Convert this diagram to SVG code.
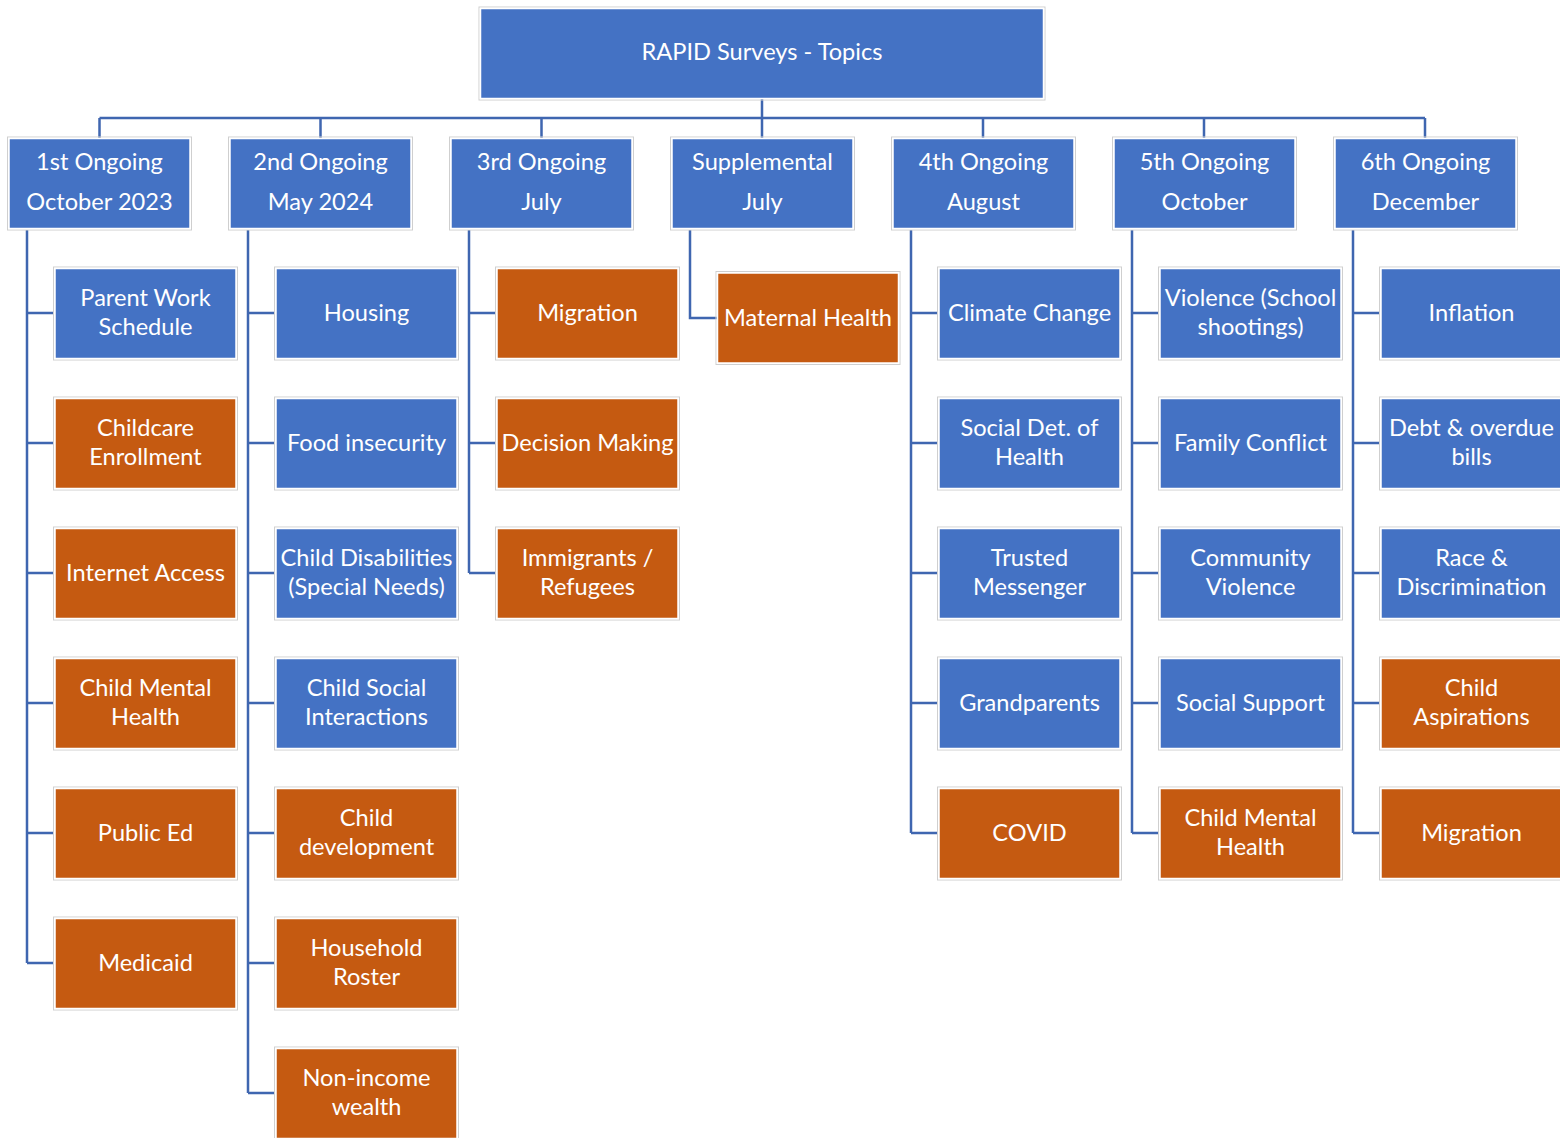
<svg xmlns="http://www.w3.org/2000/svg" width="1560" height="1138" viewBox="0 0 1560 1138">
<style>
.b rect.f{fill:#4472C4}
.o rect.f{fill:#C55A11}
rect.f{stroke:#fff;stroke-width:1.5}
rect.e{fill:none;stroke:#cfcfcf;stroke-width:1}
text{font-family:Lato,"Liberation Sans",sans-serif;font-size:23.6px;fill:#fff;text-anchor:middle}
.c{fill:none;stroke:#3F66B0;stroke-width:2.5}
</style>
<rect width="1560" height="1138" fill="#fff"/>
<g id="connectors" class="c">
<path d="M762 99V118M99.5 118H1425M99.5 118V138M320.5 118V138M541.5 118V138M762 118V138M983 118V138M1204 118V138M1425 118V138"/>
<path d="M27 230V963M27 313H54M27 443H54M27 573H54M27 703H54M27 833H54M27 963H54"/>
<path d="M248 230V1093M248 313H275M248 443H275M248 573H275M248 703H275M248 833H275M248 963H275M248 1093H275"/>
<path d="M469 230V573M469 313H496M469 443H496M469 573H496"/>
<path d="M690 230V318H717"/>
<path d="M911 230V833M911 313H938M911 443H938M911 573H938M911 703H938M911 833H938"/>
<path d="M1132 230V833M1132 313H1159M1132 443H1159M1132 573H1159M1132 703H1159M1132 833H1159"/>
<path d="M1353 230V833M1353 313H1380M1353 443H1380M1353 573H1380M1353 703H1380M1353 833H1380"/>
</g>
<g id="root" class="b"><rect class="e" x="479" y="7" width="566" height="93"/><rect class="f" x="480.5" y="8.5" width="563" height="90"/><text x="762" y="60">RAPID Surveys - Topics</text></g>
<g id="h1" class="b"><rect class="e" x="7.5" y="137" width="184" height="93"/><rect class="f" x="9" y="138.5" width="181" height="90"/><text x="99.5" y="170">1st Ongoing</text><text x="99.5" y="210">October 2023</text></g>
<g id="h2" class="b"><rect class="e" x="228.5" y="137" width="184" height="93"/><rect class="f" x="230" y="138.5" width="181" height="90"/><text x="320.5" y="170">2nd Ongoing</text><text x="320.5" y="210">May 2024</text></g>
<g id="h3" class="b"><rect class="e" x="449.5" y="137" width="184" height="93"/><rect class="f" x="451" y="138.5" width="181" height="90"/><text x="541.5" y="170">3rd Ongoing</text><text x="541.5" y="210">July</text></g>
<g id="h4" class="b"><rect class="e" x="670.5" y="137" width="184" height="93"/><rect class="f" x="672" y="138.5" width="181" height="90"/><text x="762.5" y="170">Supplemental</text><text x="762.5" y="210">July</text></g>
<g id="h5" class="b"><rect class="e" x="891.5" y="137" width="184" height="93"/><rect class="f" x="893" y="138.5" width="181" height="90"/><text x="983.5" y="170">4th Ongoing</text><text x="983.5" y="210">August</text></g>
<g id="h6" class="b"><rect class="e" x="1112.5" y="137" width="184" height="93"/><rect class="f" x="1114" y="138.5" width="181" height="90"/><text x="1204.5" y="170">5th Ongoing</text><text x="1204.5" y="210">October</text></g>
<g id="h7" class="b"><rect class="e" x="1333.5" y="137" width="184" height="93"/><rect class="f" x="1335" y="138.5" width="181" height="90"/><text x="1425.5" y="170">6th Ongoing</text><text x="1425.5" y="210">December</text></g>

<g id="c1-1" class="b"><rect class="e" x="53.5" y="267" width="184" height="93"/><rect class="f" x="55" y="268.5" width="181" height="90"/><text x="145.5" y="306">Parent Work</text><text x="145.5" y="335">Schedule</text></g>
<g id="c1-2" class="o"><rect class="e" x="53.5" y="397" width="184" height="93"/><rect class="f" x="55" y="398.5" width="181" height="90"/><text x="145.5" y="436">Childcare</text><text x="145.5" y="465">Enrollment</text></g>
<g id="c1-3" class="o"><rect class="e" x="53.5" y="527" width="184" height="93"/><rect class="f" x="55" y="528.5" width="181" height="90"/><text x="145.5" y="581">Internet Access</text></g>
<g id="c1-4" class="o"><rect class="e" x="53.5" y="657" width="184" height="93"/><rect class="f" x="55" y="658.5" width="181" height="90"/><text x="145.5" y="696">Child Mental</text><text x="145.5" y="725">Health</text></g>
<g id="c1-5" class="o"><rect class="e" x="53.5" y="787" width="184" height="93"/><rect class="f" x="55" y="788.5" width="181" height="90"/><text x="145.5" y="841">Public Ed</text></g>
<g id="c1-6" class="o"><rect class="e" x="53.5" y="917" width="184" height="93"/><rect class="f" x="55" y="918.5" width="181" height="90"/><text x="145.5" y="971">Medicaid</text></g>

<g id="c2-1" class="b"><rect class="e" x="274.5" y="267" width="184" height="93"/><rect class="f" x="276" y="268.5" width="181" height="90"/><text x="366.5" y="321">Housing</text></g>
<g id="c2-2" class="b"><rect class="e" x="274.5" y="397" width="184" height="93"/><rect class="f" x="276" y="398.5" width="181" height="90"/><text x="366.5" y="451">Food insecurity</text></g>
<g id="c2-3" class="b"><rect class="e" x="274.5" y="527" width="184" height="93"/><rect class="f" x="276" y="528.5" width="181" height="90"/><text x="366.5" y="566">Child Disabilities</text><text x="366.5" y="595">(Special Needs)</text></g>
<g id="c2-4" class="b"><rect class="e" x="274.5" y="657" width="184" height="93"/><rect class="f" x="276" y="658.5" width="181" height="90"/><text x="366.5" y="696">Child Social</text><text x="366.5" y="725">Interactions</text></g>
<g id="c2-5" class="o"><rect class="e" x="274.5" y="787" width="184" height="93"/><rect class="f" x="276" y="788.5" width="181" height="90"/><text x="366.5" y="826">Child</text><text x="366.5" y="855">development</text></g>
<g id="c2-6" class="o"><rect class="e" x="274.5" y="917" width="184" height="93"/><rect class="f" x="276" y="918.5" width="181" height="90"/><text x="366.5" y="956">Household</text><text x="366.5" y="985">Roster</text></g>
<g id="c2-7" class="o"><rect class="e" x="274.5" y="1047" width="184" height="93"/><rect class="f" x="276" y="1048.5" width="181" height="90"/><text x="366.5" y="1086">Non-income</text><text x="366.5" y="1115">wealth</text></g>

<g id="c3-1" class="o"><rect class="e" x="495.5" y="267" width="184" height="93"/><rect class="f" x="497" y="268.5" width="181" height="90"/><text x="587.5" y="321">Migration</text></g>
<g id="c3-2" class="o"><rect class="e" x="495.5" y="397" width="184" height="93"/><rect class="f" x="497" y="398.5" width="181" height="90"/><text x="587.5" y="451">Decision Making</text></g>
<g id="c3-3" class="o"><rect class="e" x="495.5" y="527" width="184" height="93"/><rect class="f" x="497" y="528.5" width="181" height="90"/><text x="587.5" y="566">Immigrants /</text><text x="587.5" y="595">Refugees</text></g>

<g id="c4-1" class="o"><rect class="e" x="716" y="271.5" width="184" height="93"/><rect class="f" x="717.5" y="273" width="181" height="90"/><text x="808" y="326">Maternal Health</text></g>

<g id="c5-1" class="b"><rect class="e" x="937.5" y="267" width="184" height="93"/><rect class="f" x="939" y="268.5" width="181" height="90"/><text x="1029.5" y="321">Climate Change</text></g>
<g id="c5-2" class="b"><rect class="e" x="937.5" y="397" width="184" height="93"/><rect class="f" x="939" y="398.5" width="181" height="90"/><text x="1029.5" y="436">Social Det. of</text><text x="1029.5" y="465">Health</text></g>
<g id="c5-3" class="b"><rect class="e" x="937.5" y="527" width="184" height="93"/><rect class="f" x="939" y="528.5" width="181" height="90"/><text x="1029.5" y="566">Trusted</text><text x="1029.5" y="595">Messenger</text></g>
<g id="c5-4" class="b"><rect class="e" x="937.5" y="657" width="184" height="93"/><rect class="f" x="939" y="658.5" width="181" height="90"/><text x="1029.5" y="711">Grandparents</text></g>
<g id="c5-5" class="o"><rect class="e" x="937.5" y="787" width="184" height="93"/><rect class="f" x="939" y="788.5" width="181" height="90"/><text x="1029.5" y="841">COVID</text></g>

<g id="c6-1" class="b"><rect class="e" x="1158.5" y="267" width="184" height="93"/><rect class="f" x="1160" y="268.5" width="181" height="90"/><text x="1250.5" y="306">Violence (School</text><text x="1250.5" y="335">shootings)</text></g>
<g id="c6-2" class="b"><rect class="e" x="1158.5" y="397" width="184" height="93"/><rect class="f" x="1160" y="398.5" width="181" height="90"/><text x="1250.5" y="451">Family Conflict</text></g>
<g id="c6-3" class="b"><rect class="e" x="1158.5" y="527" width="184" height="93"/><rect class="f" x="1160" y="528.5" width="181" height="90"/><text x="1250.5" y="566">Community</text><text x="1250.5" y="595">Violence</text></g>
<g id="c6-4" class="b"><rect class="e" x="1158.5" y="657" width="184" height="93"/><rect class="f" x="1160" y="658.5" width="181" height="90"/><text x="1250.5" y="711">Social Support</text></g>
<g id="c6-5" class="o"><rect class="e" x="1158.5" y="787" width="184" height="93"/><rect class="f" x="1160" y="788.5" width="181" height="90"/><text x="1250.5" y="826">Child Mental</text><text x="1250.5" y="855">Health</text></g>

<g id="c7-1" class="b"><rect class="e" x="1379.5" y="267" width="184" height="93"/><rect class="f" x="1381" y="268.5" width="181" height="90"/><text x="1471.5" y="321">Inflation</text></g>
<g id="c7-2" class="b"><rect class="e" x="1379.5" y="397" width="184" height="93"/><rect class="f" x="1381" y="398.5" width="181" height="90"/><text x="1471.5" y="436">Debt &amp; overdue</text><text x="1471.5" y="465">bills</text></g>
<g id="c7-3" class="b"><rect class="e" x="1379.5" y="527" width="184" height="93"/><rect class="f" x="1381" y="528.5" width="181" height="90"/><text x="1471.5" y="566">Race &amp;</text><text x="1471.5" y="595">Discrimination</text></g>
<g id="c7-4" class="o"><rect class="e" x="1379.5" y="657" width="184" height="93"/><rect class="f" x="1381" y="658.5" width="181" height="90"/><text x="1471.5" y="696">Child</text><text x="1471.5" y="725">Aspirations</text></g>
<g id="c7-5" class="o"><rect class="e" x="1379.5" y="787" width="184" height="93"/><rect class="f" x="1381" y="788.5" width="181" height="90"/><text x="1471.5" y="841">Migration</text></g>
</svg>
